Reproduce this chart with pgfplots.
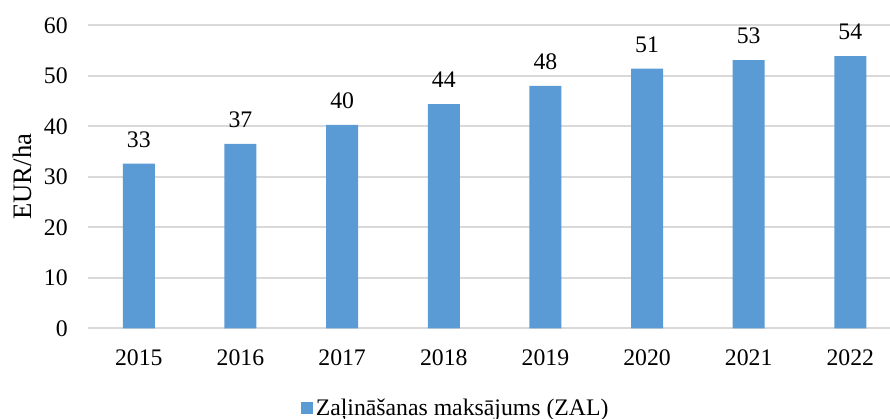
\documentclass[border=0pt]{standalone}
\usepackage{pgfplots}
\pgfplotsset{compat=1.18}
\usepackage{fontspec}
\setmainfont{Liberation Serif}
\definecolor{barblue}{HTML}{5B9BD5}
\definecolor{gridgray}{HTML}{D9D9D9}
\begin{document}
\begin{tikzpicture}[x=1pt,y=1pt]
\useasboundingbox (-66,-68) rectangle (601.5,246.2);
\begin{axis}[
  at={(0,0)}, anchor=south west,
  scale only axis,
  width=601.5pt, height=227.25pt,
  xmin=-0.5, xmax=7.39,
  ymin=0, ymax=60,
  ytick={0,10,...,60},
  xtick={0,...,7},
  xticklabels={2015,2016,2017,2018,2019,2020,2021,2022},
  axis line style={draw=none},
  major tick length=0pt,
  ymajorgrids,
  grid style={gridgray, line width=1.2pt},
  tick label style={font=\fontsize{17.8}{20}\selectfont, inner sep=0pt},
  /pgf/number format/assume math mode=true,
  yticklabel style={anchor=east, xshift=-15pt},
  xticklabel style={anchor=north, yshift=-15.75pt},
  ylabel={EUR/ha},
  ylabel style={font=\fontsize{20}{22}\selectfont, at={(rel axis cs:0,0.5)}, anchor=center, yshift=49.5pt},
  nodes near coords={\pgfmathprintnumber[fixed,precision=0]{\pgfplotspointmeta}},
  nodes near coords style={font=\fontsize{17.8}{20}\selectfont, anchor=south, inner sep=0pt, yshift=12pt},
  legend style={at={(rel axis cs:0.459,-0.263)}, anchor=center, draw=none, font=\fontsize{17.8}{20}\selectfont, inner sep=0pt},
  legend image code/.code={\fill[barblue] (0pt,-4.5pt) rectangle (9pt,4.5pt);},
]
\addplot[ybar, bar width=24pt, fill=barblue, draw=none] coordinates {
(0,32.6) (1,36.5) (2,40.3) (3,44.4) (4,48.0) (5,51.4) (6,53.1) (7,53.9)
};
\addlegendentry{Zaļināšanas maksājums (ZAL)}
\end{axis}
\end{tikzpicture}
\end{document}
